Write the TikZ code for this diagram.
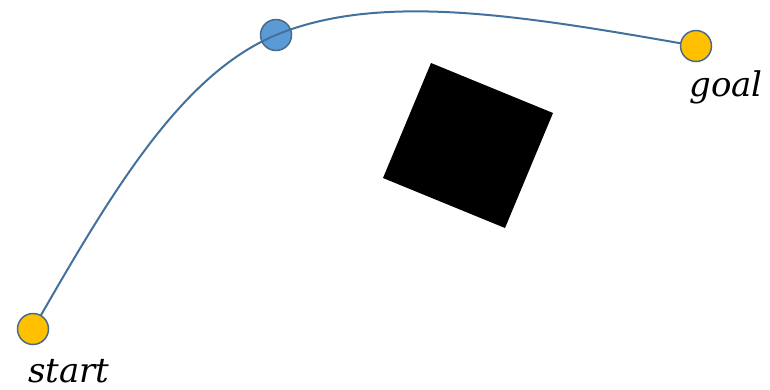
\documentclass[tikz,border=0pt]{standalone}
\usepackage{fontspec}
\newfontfamily\labelfont{DejaVu Serif}
\definecolor{edge}{HTML}{41719C}
\definecolor{wpfill}{HTML}{5B9BD5}
\definecolor{endfill}{HTML}{FFC000}
\definecolor{ring}{HTML}{4A6A8A}
\begin{document}
\begin{tikzpicture}[x=1pt,y=-1pt,
  pt/.style={circle,draw=ring,line width=1.5pt,minimum size=31pt,inner sep=0pt},
  lbl/.style={font=\labelfont\itshape\fontsize{34}{36}\selectfont,anchor=base,inner sep=0pt}]
\useasboundingbox (0,0) rectangle (770,389);
\fill[black] (431,63) -- (553,113) -- (505,228) -- (383,178) -- cycle;
\node[pt,fill=wpfill] (way) at (276,35) {};
\coordinate (s) at (33,329);
\coordinate (g) at (696,46);
\draw[edge,line width=2pt] (s) .. controls (110,195) and (180,75) .. (way.center)
   .. controls (380,-8) and (520,15) .. (g);
\node[pt,fill=endfill] (start) at (s) {};
\node[pt,fill=endfill] (goal) at (g) {};
\node[lbl] (startlbl) at (69,382) {start};
\node[lbl] (goallbl) at (726,96) {goal};
\end{tikzpicture}
\end{document}
